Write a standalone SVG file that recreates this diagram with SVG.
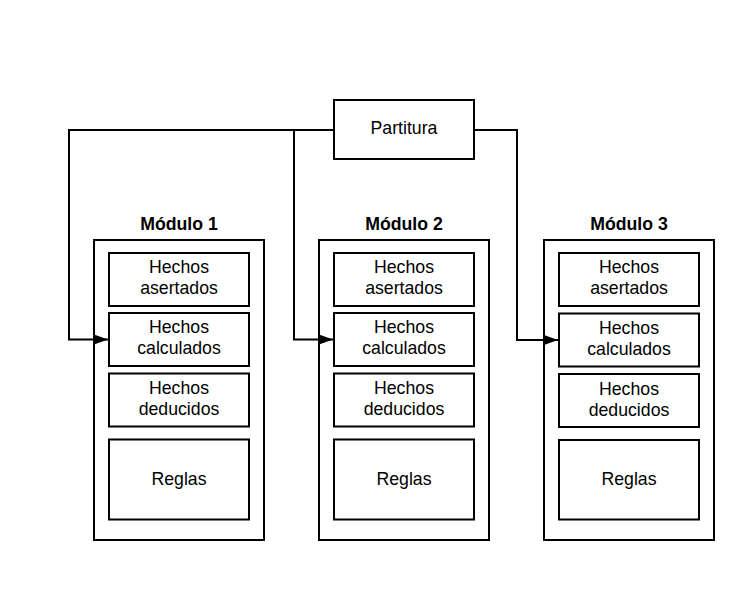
<svg xmlns="http://www.w3.org/2000/svg" width="736" height="607" viewBox="0 0 736 607">
<style>
.b{fill:#fff;stroke:#000;stroke-width:2}
.t{font-family:"Liberation Sans",Arial,sans-serif;font-size:17.7px;fill:#000;text-anchor:middle}
.h{font-family:"Liberation Sans",Arial,sans-serif;font-size:17.7px;font-weight:bold;fill:#000;text-anchor:middle}
.c{fill:none;stroke:#000;stroke-width:2}
</style>
<defs>
<marker id="ar" markerWidth="14" markerHeight="12" refX="14" refY="6" orient="auto" markerUnits="userSpaceOnUse">
<path d="M0,1 L14,6 L0,11 Z" fill="#000"/>
</marker>
</defs>
<rect width="736" height="607" fill="#fff"/>
<g id="partitura">
<rect class="b" x="334" y="100" width="140" height="59"/>
<text class="t" x="404" y="133.5">Partitura</text>
</g>
<g id="modulo1">
<text class="h" x="179" y="230">Módulo 1</text>
<rect class="b" x="94" y="240" width="170" height="300"/>
<rect class="b" x="109" y="253" width="140" height="53"/>
<text class="t" x="179" y="273">Hechos</text>
<text class="t" x="179" y="294">asertados</text>
<rect class="b" x="109" y="313" width="140" height="53"/>
<text class="t" x="179" y="333">Hechos</text>
<text class="t" x="179" y="354">calculados</text>
<rect class="b" x="109" y="373.5" width="140" height="53"/>
<text class="t" x="179" y="394">Hechos</text>
<text class="t" x="179" y="415">deducidos</text>
<rect class="b" x="109" y="439.5" width="140" height="80"/>
<text class="t" x="179" y="485">Reglas</text>
</g>
<g id="modulo2">
<text class="h" x="404" y="230">Módulo 2</text>
<rect class="b" x="319" y="240" width="170" height="300"/>
<rect class="b" x="334" y="253" width="140" height="53"/>
<text class="t" x="404" y="273">Hechos</text>
<text class="t" x="404" y="294">asertados</text>
<rect class="b" x="334" y="313" width="140" height="53"/>
<text class="t" x="404" y="333">Hechos</text>
<text class="t" x="404" y="354">calculados</text>
<rect class="b" x="334" y="373.5" width="140" height="53"/>
<text class="t" x="404" y="394">Hechos</text>
<text class="t" x="404" y="415">deducidos</text>
<rect class="b" x="334" y="439.5" width="140" height="80"/>
<text class="t" x="404" y="485">Reglas</text>
</g>
<g id="modulo3">
<text class="h" x="629" y="230">Módulo 3</text>
<rect class="b" x="544" y="240" width="170" height="300"/>
<rect class="b" x="559" y="253" width="140" height="53"/>
<text class="t" x="629" y="273">Hechos</text>
<text class="t" x="629" y="294">asertados</text>
<rect class="b" x="559" y="313.5" width="140" height="53"/>
<text class="t" x="629" y="334">Hechos</text>
<text class="t" x="629" y="355">calculados</text>
<rect class="b" x="559" y="374" width="140" height="53"/>
<text class="t" x="629" y="395">Hechos</text>
<text class="t" x="629" y="416">deducidos</text>
<rect class="b" x="559" y="440" width="140" height="79.5"/>
<text class="t" x="629" y="485">Reglas</text>
</g>
<g id="connectors">
<path class="c" d="M334,130 H69 V339.5 H108" marker-end="url(#ar)"/>
<path class="c" d="M294,130 V339.5 H333" marker-end="url(#ar)"/>
<path class="c" d="M474,130 H517 V340 H558" marker-end="url(#ar)"/>
</g>
</svg>
